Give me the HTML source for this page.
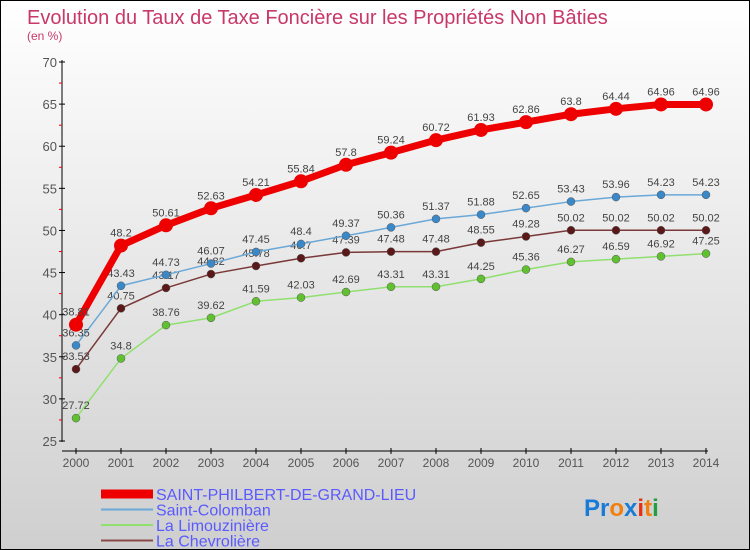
<!DOCTYPE html>
<html><head><meta charset="utf-8"><style>
body{margin:0}
#c{position:relative;width:748px;height:548px;border:1px solid #000;background:linear-gradient(#ffffff,#cfcfcf);overflow:hidden;font-family:"Liberation Sans",sans-serif}
</style></head><body>
<div id="c">
<svg id="s" width="748" height="548" style="position:absolute;left:0;top:0">
<text x="26" y="23" font-size="20" fill="#c83868">Evolution du Taux de Taxe Foncière sur les Propriétés Non Bâties</text>
<text x="26" y="39" font-size="12" fill="#c83868">(en %)</text>
<g id="axes"></g><g id="series"></g><g id="legend"></g>
<text x="583" y="515" font-size="24" font-weight="bold"><tspan fill="#1a7ad8">Pr</tspan><tspan fill="#f08010">o</tspan><tspan fill="#1a7ad8">x</tspan><tspan fill="#e83010">i</tspan><tspan fill="#f08010">t</tspan><tspan fill="#20a040">i</tspan></text>
</svg>
</div>
<script>
const years=[2000,2001,2002,2003,2004,2005,2006,2007,2008,2009,2010,2011,2012,2013,2014];
const yTicks=[25,30,35,40,45,50,55,60,65,70];
const philbert=[38.81,48.2,50.61,52.63,54.21,55.84,57.8,59.24,60.72,61.93,62.86,63.8,64.44,64.96,64.96];
const colomban=[36.35,43.43,44.73,46.07,47.45,48.4,49.37,50.36,51.37,51.88,52.65,53.43,53.96,54.23,54.23];
const limouziniere=[27.72,34.8,38.76,39.62,41.59,42.03,42.69,43.31,43.31,44.25,45.36,46.27,46.59,46.92,47.25];
const chevroliere=[33.53,40.75,43.17,44.82,45.78,46.7,47.39,47.48,47.48,48.55,49.28,50.02,50.02,50.02,50.02];
const seriesNames=["SAINT-PHILBERT-DE-GRAND-LIEU","Saint-Colomban","La Limouzinière","La Chevrolière"];
const NS="http://www.w3.org/2000/svg";
const X=i=>75+i*45;
const Y=v=>440-(v-25)*(379/45);
function mk(tag,attrs,parent){const e=document.createElementNS(NS,tag);for(const k in attrs)e.setAttribute(k,attrs[k]);parent.appendChild(e);return e;}
const ax=document.getElementById('axes');
let a=mk('line',{x1:61,y1:59,x2:61,y2:441,stroke:'#000'},ax);


a=mk('line',{x1:61,y1:450,x2:707,y2:450,stroke:'#000'},ax);


yTicks.forEach(v=>{
  mk('line',{x1:58,y1:Y(v),x2:64,y2:Y(v),stroke:'#000'},ax);
  const t=mk('text',{x:56,y:Y(v)+5,'font-size':13,fill:'#555','text-anchor':'end'},ax);t.textContent=v;
  
  
  if(v<70)mk('line',{x1:58,y1:Y(v+2.5),x2:61,y2:Y(v+2.5),stroke:'#e00'},ax);
});
years.forEach((y,i)=>{
  mk('line',{x1:X(i),y1:447,x2:X(i),y2:453,stroke:'#000'},ax);
  const t=mk('text',{x:X(i),y:466,'font-size':12,fill:'#555','text-anchor':'middle'},ax);t.textContent=y;
  
  
});
const sg=document.getElementById('series');
const defs=[[chevroliere,'#7a3838','#5a1818',1.5,4],[limouziniere,'#90e070','#60c030',1.5,4],[colomban,'#6aa8d8','#3a88c8',1.5,4],[philbert,'#ee0000','#ee0000',7,7]];
const names=['series-chevroliere','series-limouziniere','series-colomban','series-saint-philbert'];
defs.forEach((d,k)=>{
  const [vals,lc,pc,w,r]=d;
  const g=mk('g',{},sg);
  
  
  const p=mk('polyline',{points:vals.map((v,i)=>X(i)+','+Y(v)).join(' '),fill:'none',stroke:lc,'stroke-width':w,'stroke-linejoin':'round'},g);
  
  
  vals.forEach((v,i)=>{
    const c=mk('circle',{cx:X(i),cy:Y(v),r:r,fill:pc,stroke:k==3?'none':'#555','stroke-width':0.5},g);
    
    
    const t=mk('text',{x:X(i),y:Y(v)-9,'font-size':11,fill:'#444','text-anchor':'middle'},g);t.textContent=v;
    
    
  });
});
const lg=document.getElementById('legend');
const lcol=['#ee0000','#6aa8d8','#90e070','#8a4848'],lw=[9,2,2,2];
seriesNames.forEach((n,k)=>{
  const y=493+k*15.5;
  const g=mk('g',{},lg);
  
  
  mk('line',{x1:100,y1:y,x2:152,y2:y,stroke:lcol[k],'stroke-width':lw[k]},g);
  const t=mk('text',{x:155,y:y+6,'font-size':16,fill:'#5a5aff'},g);t.textContent=n;
});
</script>
</body></html>
